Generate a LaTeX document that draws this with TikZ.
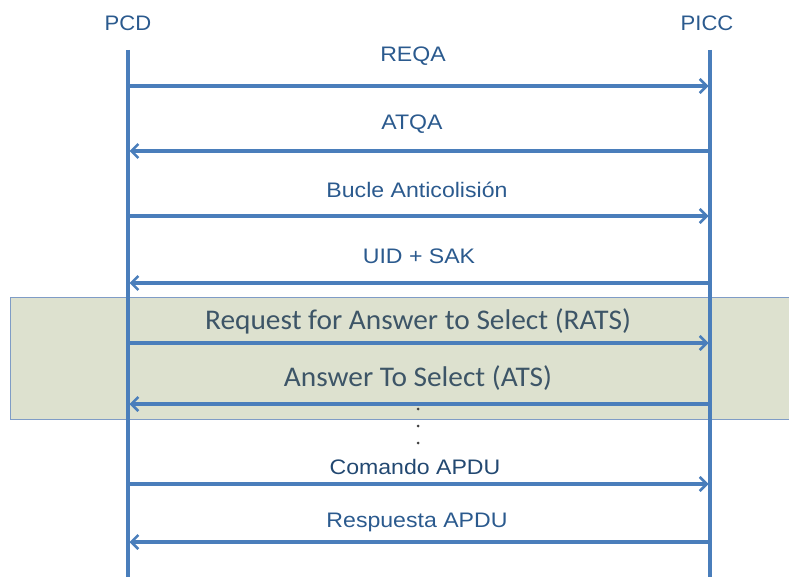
\documentclass[tikz,border=0pt]{standalone}
\usepackage{fontspec}
\setmainfont{Liberation Sans}
\newfontfamily\calibri{Carlito}
\usetikzlibrary{arrows.meta}
\definecolor{lineblue}{HTML}{4A7EBB}
\definecolor{labelblue}{HTML}{2B5A8E}
\definecolor{boxfill}{HTML}{DDE1CF}
\definecolor{boxedge}{HTML}{7F9CC6}
\definecolor{boxtext}{HTML}{3D5567}
\begin{document}
\begin{tikzpicture}[x=1pt,y=-1pt,
  lifeline/.style={draw=lineblue,line width=3.2pt},
  msg/.style={draw=lineblue,line width=3.2pt,-{Straight Barb[length=7pt,width=14pt,line width=2.6pt]},shorten >=1.5pt},
  msglabel/.style={text=labelblue,font=\fontsize{21}{23}\selectfont,inner sep=0pt,xscale=1.1},
  boxlabel/.style={text=boxtext,font=\calibri\fontsize{28.5}{31}\selectfont,inner sep=0pt,xscale=1.03},
  party/.style={text=labelblue,font=\fontsize{21}{23}\selectfont,inner sep=0pt,xscale=1.05},
  dotmark/.style={circle,fill=black!75,inner sep=0pt,minimum size=3pt}]
\useasboundingbox (0,0) rectangle (789,577);

% shaded block for the RATS / ATS exchange
\fill[boxfill] (10,297) rectangle (795,419);
\draw[boxedge,line width=1pt] (795,297) -- (10,297) -- (10,419) -- (795,419);

% parties and their lifelines
\node[party] (pcd) at (128,23) {PCD};
\node[party] (picc) at (707,23) {PICC};
\coordinate (pcdTop) at (128,50);
\coordinate (pcdBot) at (128,580);
\coordinate (piccTop) at (710,50);
\coordinate (piccBot) at (710,580);
\draw[lifeline] (pcdTop) -- (pcdBot);
\draw[lifeline] (piccTop) -- (piccBot);

% message end points on each lifeline
\foreach \n/\y in {a/86,b/151,c/216,d/283,e/343,f/404,g/484,h/542}{
  \coordinate (L\n) at (128,\y);
  \coordinate (R\n) at (710,\y);
}

\draw[msg] (La) -- (Ra);
\node[msglabel] (reqa) at (413,56) {REQA};
\draw[msg] (Rb) -- (Lb);
\node[msglabel] (atqa) at (412,124) {ATQA};
\draw[msg] (Lc) -- (Rc);
\node[msglabel] (bucle) at (417,190) {Bucle Anticolisión};
\draw[msg] (Rd) -- (Ld);
\node[msglabel] (uid) at (419,256) {UID + SAK};

\draw[msg] (Le) -- (Re);
\node[boxlabel] (rats) at (418,321) {Request for Answer to Select (RATS)};
\draw[msg] (Rf) -- (Lf);
\node[boxlabel] (ats) at (418,378) {Answer To Select (ATS)};

\node[dotmark] (d1) at (418,409) {};
\node[dotmark] (d2) at (418,426) {};
\node[dotmark] (d3) at (418,443) {};

\draw[msg] (Lg) -- (Rg);
\node[msglabel,text=labelblue!80!black] (cmd) at (415,467) {Comando APDU};
\draw[msg] (Rh) -- (Lh);
\node[msglabel] (resp) at (417,522) {Respuesta APDU};
\end{tikzpicture}
\end{document}
